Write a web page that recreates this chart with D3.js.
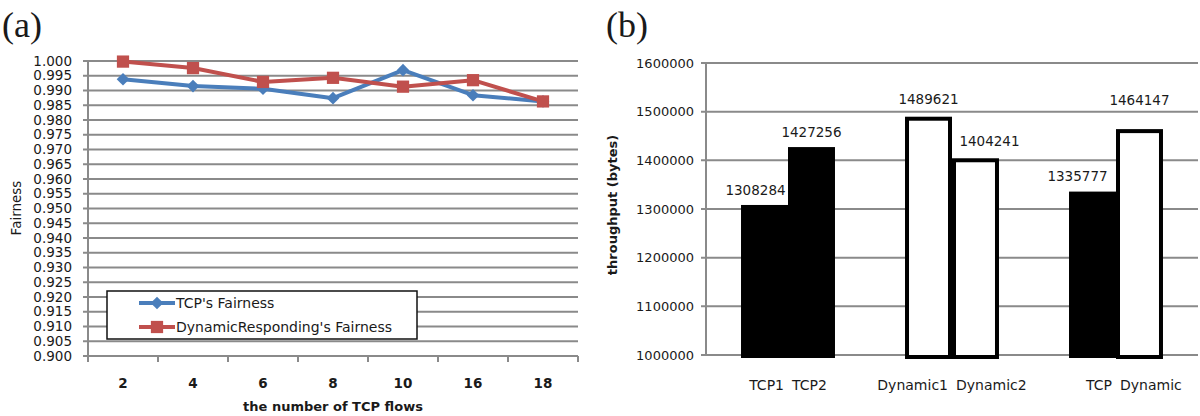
<!DOCTYPE html>
<html>
<head>
<meta charset="utf-8">
<script src="https://cdn.jsdelivr.net/npm/d3@7"></script>
<style>
  html, body { margin: 0; padding: 0; background: #fff; }
  svg { display: block; }
  text { font-family: "DejaVu Sans", sans-serif; fill: #1a1a1a; }
</style>
</head>
<body>
<svg id="chart" width="1200" height="416"></svg>
<script>
// ---------- Data: panel (a) ----------
const flowCategories = ["2", "4", "6", "8", "10", "16", "18"];
const tcpFairness = [0.9938, 0.9915, 0.9906, 0.9874, 0.9969, 0.9884, 0.9863];
const dynamicFairness = [0.9998, 0.9976, 0.9929, 0.9943, 0.9913, 0.9935, 0.9863];
const fairnessTicks = d3.range(0, 21).map(i => +(0.900 + i * 0.005).toFixed(3));
const seriesNames = ["TCP's Fairness", "DynamicResponding's Fairness"];

// ---------- Data: panel (b) ----------
const barGroups = ["TCP", "Dynamic", "Mixed"];
const barNames = ["TCP1", "TCP2", "Dynamic1", "Dynamic2", "TCP", "Dynamic"];
const barTypes = ["TCP", "TCP", "Dynamic", "Dynamic", "TCP", "Dynamic"];
const barValues = [1308284, 1427256, 1489621, 1404241, 1335777, 1464147];
const throughputTicks = [1000000, 1100000, 1200000, 1300000, 1400000, 1500000, 1600000];

// ---------- Layout (not data) ----------
const labelDx = [-9, 0, 0, 14, -15, 0];
const labelDy = [-15, -15, -17, -17, -15, -29];
const FS = "13.5px";

const svg = d3.select("#chart");
const gridColor = "#8a8a8a";

const diamondPath = d3.symbol().type(d3.symbolSquare).size(80)();
const squarePath = d3.symbol().type(d3.symbolSquare).size(150)();

// ================= Panel (a) =================
(function () {
  const x0 = 88, x1 = 578, yTop = 61, yBot = 356;
  const x = d3.scaleBand().domain(flowCategories).range([x0, x1]);
  const y = d3.scaleLinear().domain([0.900, 1.000]).range([yBot, yTop]);
  const g = svg.append("g");

  g.append("text").attr("x", 2).attr("y", 37)
    .style("font-family", "'Liberation Serif', serif").style("font-size", "36px")
    .text("(a)");

  g.selectAll("line.grid").data(fairnessTicks).enter().append("line")
    .attr("x1", x0 - 5).attr("x2", x1)
    .attr("y1", d => y(d)).attr("y2", d => y(d))
    .attr("stroke", gridColor).attr("stroke-width", 2);
  g.append("line").attr("x1", x0).attr("x2", x0).attr("y1", yTop).attr("y2", yBot)
    .attr("stroke", gridColor).attr("stroke-width", 2);
  const bounds = flowCategories.map(c => x(c)).concat([x1]);
  g.selectAll("line.xt").data(bounds).enter().append("line")
    .attr("x1", d => d).attr("x2", d => d).attr("y1", yBot).attr("y2", yBot + 6)
    .attr("stroke", gridColor).attr("stroke-width", 2);

  g.selectAll("text.yl").data(fairnessTicks).enter().append("text")
    .attr("x", 72).attr("y", d => y(d)).attr("dy", "0.35em")
    .attr("text-anchor", "end").style("font-size", FS)
    .text(d => d.toFixed(3));
  g.selectAll("text.xl").data(flowCategories).enter().append("text")
    .attr("x", d => x(d) + x.bandwidth() / 2).attr("y", 383).attr("dy", "0.35em")
    .attr("text-anchor", "middle").style("font-size", FS).style("font-weight", "bold")
    .text(d => d);
  g.append("text").attr("x", (x0 + x1) / 2).attr("y", 411)
    .attr("text-anchor", "middle").style("font-size", "13px").style("font-weight", "bold")
    .text("the number of TCP flows");
  g.append("text").attr("transform", "translate(16,208) rotate(-90)")
    .attr("text-anchor", "middle").attr("dy", "0.35em").style("font-size", FS)
    .text("Fairness");

  const cx = (d, i) => x(flowCategories[i]) + x.bandwidth() / 2;
  const line = d3.line().x((d, i) => cx(d, i)).y(d => y(d));
  const colors = ["#4a7ebb", "#c0504d"];
  const series = [tcpFairness, dynamicFairness];

  series.forEach((vals, s) => {
    g.append("path").datum(vals).attr("d", line).attr("fill", "none")
      .attr("stroke", colors[s]).attr("stroke-width", 4).attr("stroke-linejoin", "round");
  });
  series.forEach((vals, s) => {
    g.selectAll(null).data(vals).enter().append("path")
      .attr("transform", (d, i) => `translate(${cx(d, i)},${y(d)})` + (s === 0 ? " rotate(45)" : ""))
      .attr("d", s === 0 ? diamondPath : squarePath)
      .attr("fill", colors[s]);
  });

  const lg = g.append("g");
  lg.append("rect").attr("x", 107).attr("y", 291).attr("width", 310).attr("height", 48)
    .attr("fill", "#fff").attr("stroke", "#111").attr("stroke-width", 1.5);
  const ly = [303, 327];
  seriesNames.forEach((name, s) => {
    lg.append("line").attr("x1", 139).attr("x2", 175).attr("y1", ly[s]).attr("y2", ly[s])
      .attr("stroke", colors[s]).attr("stroke-width", 4);
    lg.append("path").attr("transform", `translate(157,${ly[s]})` + (s === 0 ? " rotate(45)" : ""))
      .attr("d", s === 0 ? diamondPath : squarePath)
      .attr("fill", colors[s]);
    lg.append("text").attr("x", 176).attr("y", ly[s]).attr("dy", "0.35em")
      .style("font-size", "14px").text(name);
  });
})();

// ================= Panel (b) =================
(function () {
  const x0 = 706, x1 = 1198, yTop = 63, yBot = 355;
  const xg = d3.scaleBand().domain(barGroups).range([x0, x1])
    .paddingInner(0.427).paddingOuter(0.2135);
  const xi = d3.scaleBand().domain([0, 1]).range([0, xg.bandwidth()]);
  const y = d3.scaleLinear().domain([1000000, 1600000]).range([yBot, yTop]);
  const g = svg.append("g");

  g.append("text").attr("x", 606).attr("y", 37)
    .style("font-family", "'Liberation Serif', serif").style("font-size", "36px")
    .text("(b)");

  g.selectAll("line.grid").data(throughputTicks).enter().append("line")
    .attr("x1", x0 - 5).attr("x2", x1)
    .attr("y1", d => y(d)).attr("y2", d => y(d))
    .attr("stroke", gridColor).attr("stroke-width", 2);
  g.append("line").attr("x1", x0).attr("x2", x0).attr("y1", yTop).attr("y2", yBot)
    .attr("stroke", gridColor).attr("stroke-width", 2);

  g.selectAll("text.yl").data(throughputTicks).enter().append("text")
    .attr("x", 694).attr("y", d => y(d)).attr("dy", "0.35em")
    .attr("text-anchor", "end").style("font-size", "13px")
    .text(d => d3.format("d")(d));

  g.append("text").attr("transform", "translate(612,205) rotate(-90)")
    .attr("text-anchor", "middle").attr("dy", "0.35em")
    .style("font-size", "13px").style("font-weight", "bold")
    .text("throughput (bytes)");

  const bx = i => xg(barGroups[Math.floor(i / 2)]) + xi(i % 2);
  const bw = xi.bandwidth();

  barValues.forEach((v, i) => {
    const left = bx(i);
    if (barTypes[i] === "TCP") {
      g.append("rect").attr("x", left).attr("y", y(v))
        .attr("width", bw).attr("height", yBot + 3 - y(v))
        .attr("fill", "#000");
    } else {
      const sw = 4;
      g.append("rect").attr("x", left + sw / 2).attr("y", y(v) + sw / 2)
        .attr("width", bw - sw).attr("height", yBot + 2 - y(v) - sw / 2)
        .attr("fill", "#fff").attr("stroke", "#000").attr("stroke-width", sw);
    }
    g.append("text").attr("x", left + bw / 2 + labelDx[i]).attr("y", y(v) + labelDy[i])
      .attr("dy", "0.35em").attr("text-anchor", "middle").style("font-size", FS)
      .text(v);
    const gc = xg(barGroups[Math.floor(i / 2)]) + xg.bandwidth() / 2;
    g.append("text").attr("x", i % 2 === 0 ? gc - 4 : gc + 4).attr("y", 385).attr("dy", "0.35em")
      .attr("text-anchor", i % 2 === 0 ? "end" : "start").style("font-size", "14px")
      .text(barNames[i]);
  });
})();
</script>
</body>
</html>
